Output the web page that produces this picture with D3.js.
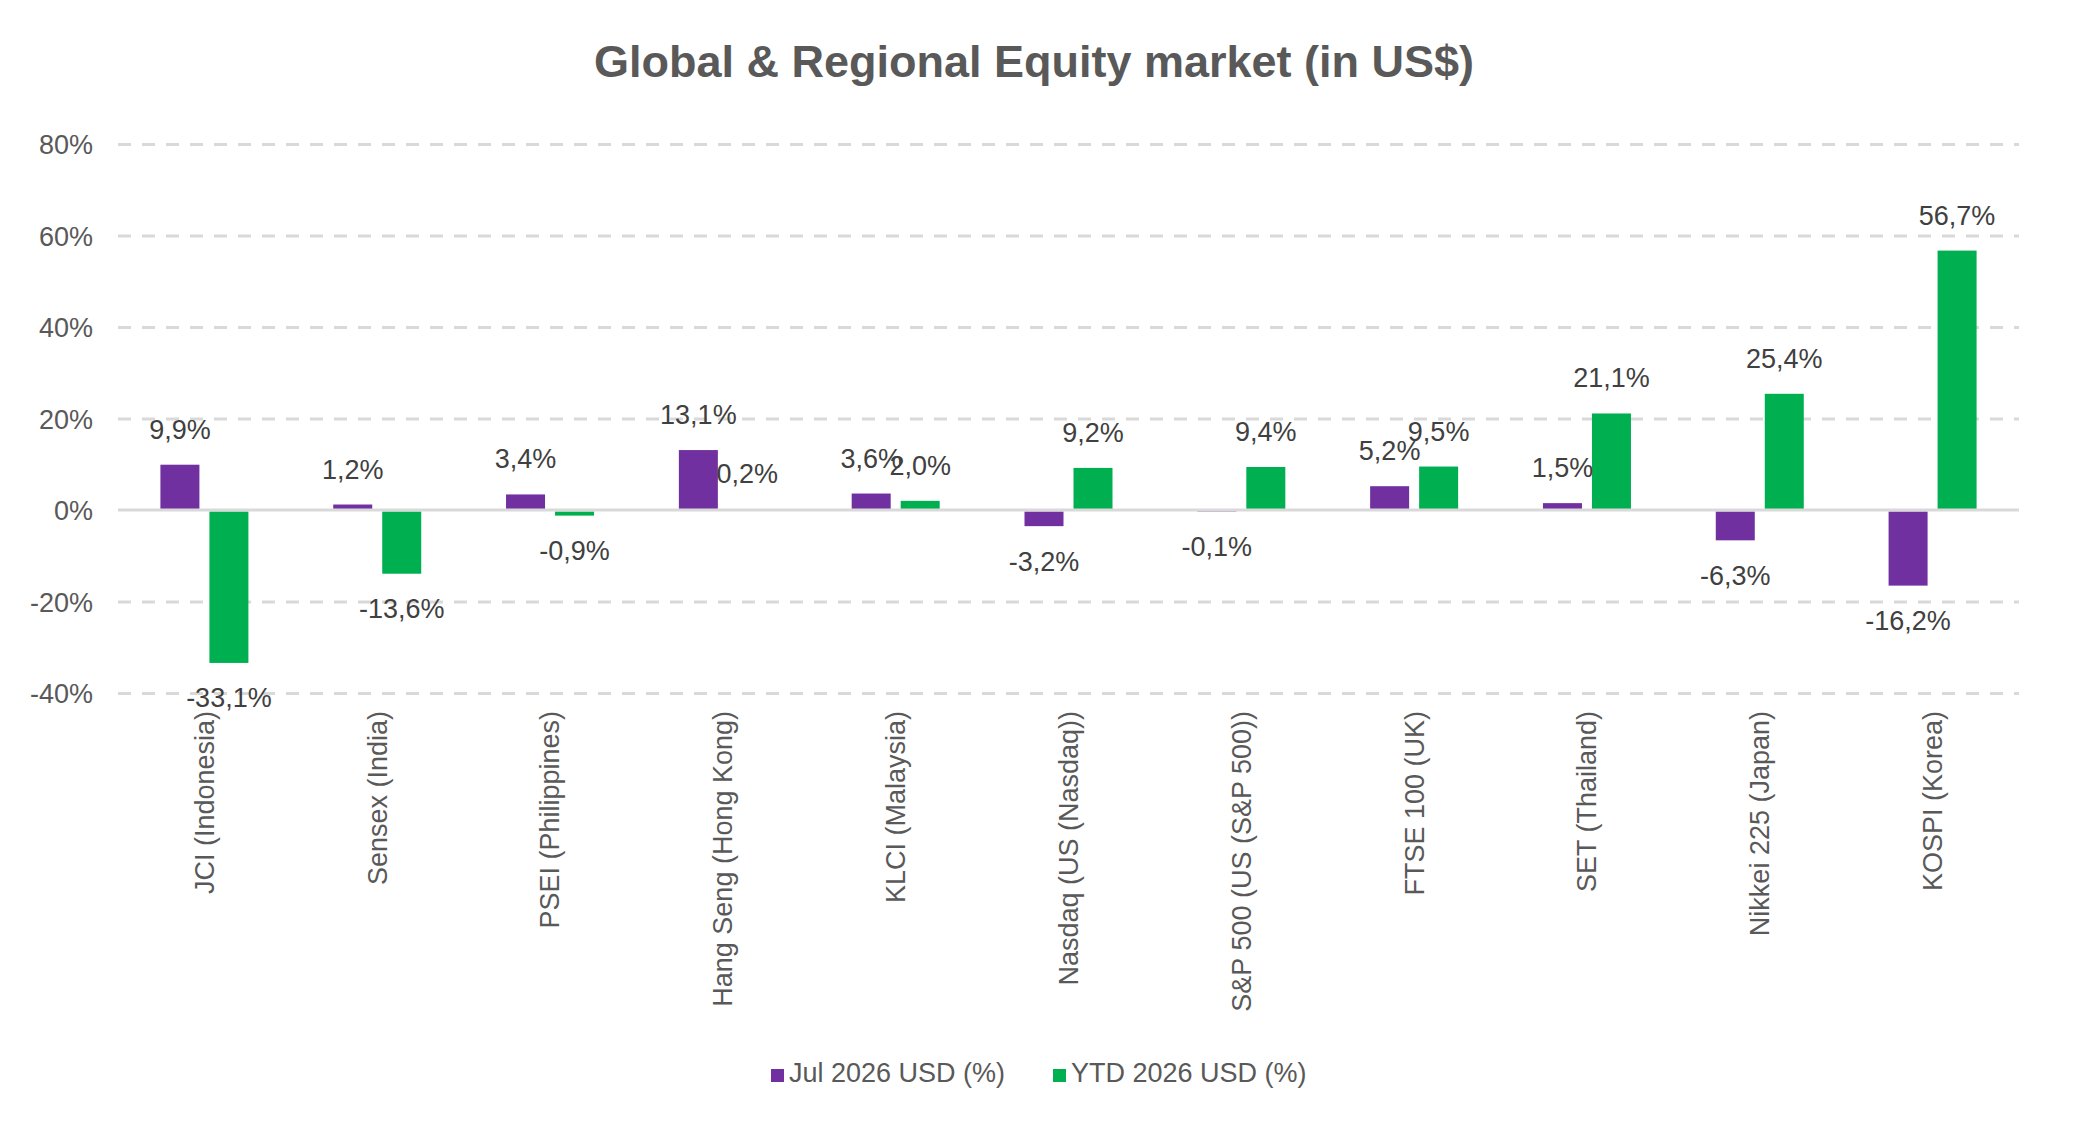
<!DOCTYPE html>
<html>

<head>
    <meta charset="utf-8">
    <style>
        body {
            margin: 0;
            background: #ffffff;
        }

        svg {
            display: block;
            font-family: Arial, 'Liberation Sans', sans-serif;
        }

        .title {
            font-size: 45px;
            font-weight: bold;
            fill: #595959;
        }

        .y .domain {
            display: none;
        }

        .y .tick line {
            stroke: #d9d9d9;
            stroke-width: 3;
            stroke-dasharray: 13, 11;
        }

        .y .tick text {
            font-size: 27px;
            fill: #595959;
        }

        .zero {
            stroke: #d9d9d9;
            stroke-width: 3;
        }

        .cat {
            font-size: 27px;
            fill: #595959;
        }

        .label {
            font-size: 27px;
            fill: #404040;
        }

        .legend text {
            font-size: 27px;
            fill: #595959;
        }
    </style>
</head>

<body>
    <svg width="2076" height="1136"></svg>

<script src="https://cdn.jsdelivr.net/npm/d3@7"></script>

<script>
    // chart values
    let categories = ["JCI (Indonesia)", "Sensex (India)", "PSEI (Philippines)", "Hang Seng (Hong Kong)",
        "KLCI (Malaysia)", "Nasdaq (US (Nasdaq))", "S&P 500 (US (S&P 500))", "FTSE 100 (UK)",
        "SET (Thailand)", "Nikkei 225 (Japan)", "KOSPI (Korea)"];
    let julValues = [9.9, 1.2, 3.4, 13.1, 3.6, -3.2, -0.1, 5.2, 1.5, -6.3, -16.2];
    let ytdValues = [-33.1, -13.6, -0.9, 0.2, 2.0, 9.2, 9.4, 9.5, 21.1, 25.4, 56.7];
    let seriesNames = ["Jul 2026 USD (%)", "YTD 2026 USD (%)"];
    let yTicks = [-40, -20, 0, 20, 40, 60, 80];

    let colors = ["#7030a0", "#00b050"];

    let width = 2076;
    let height = 1136;
    let svg = d3.select("svg");

    let plot = { left: 118, right: 2019, top: 144, bottom: 693 };

    // comma as decimal separator, plain hyphen for minus
    let locale = d3.formatLocale({ decimal: ",", thousands: ".", grouping: [3], currency: ["", ""], minus: "-" });
    let fmtLabel = locale.format(".1f");
    let fmtTick = locale.format("d");

    let xScale = d3.scaleBand()
        .domain(categories)
        .range([plot.left, plot.right])
        .padding(0);

    let yScale = d3.scaleLinear()
        .domain([-40, 80])
        .range([plot.bottom, plot.top]);

    // two bars per category, 39px wide with a 10px gap
    let inner = d3.scaleBand()
        .domain(seriesNames)
        .range([xScale.bandwidth() / 2 - 44, xScale.bandwidth() / 2 + 44])
        .paddingInner(10 / 49);

    svg.append("text")
        .attr("class", "title")
        .attr("x", 1034)
        .attr("y", 77)
        .attr("text-anchor", "middle")
        .text("Global & Regional Equity market (in US$)");

    let yAxisSettings = d3.axisLeft(yScale)
        .tickValues(yTicks)
        .tickSize(-(plot.right - plot.left))
        .tickPadding(25)
        .tickFormat(function (d) { return fmtTick(d) + "%"; });

    let yAxisTicks = svg.append("g")
        .attr("class", "y axis")
        .attr("transform", `translate(${plot.left},0)`)
        .call(yAxisSettings);

    yAxisTicks.selectAll(".tick line")
        .filter(function (d) { return d === 0; })
        .remove();
    yAxisTicks.selectAll(".tick text")
        .attr("dy", "0.36em");

    let rows = categories.map(function (c, i) {
        return { cat: c, values: [julValues[i], ytdValues[i]] };
    });

    let groups = svg.selectAll(".cat-group")
        .data(rows)
        .enter().append("g")
        .attr("class", "cat-group")
        .attr("transform", function (d) { return `translate(${xScale(d.cat)},0)`; });

    let bars = groups.selectAll("rect")
        .data(function (d) {
            return d.values.map(function (v, j) { return { series: seriesNames[j], value: v, idx: j }; });
        })
        .enter();

    bars.append("rect")
        .attr("x", function (d) { return inner(d.series); })
        .attr("width", inner.bandwidth())
        .attr("y", function (d) { return d.value >= 0 ? yScale(d.value) : yScale(0) + 1.5; })
        .attr("height", function (d) { return Math.abs(yScale(d.value) - yScale(0)); })
        .attr("fill", function (d) { return colors[d.idx]; });

    bars.append("text")
        .attr("class", "label")
        .attr("text-anchor", "middle")
        .attr("x", function (d) { return inner(d.series) + inner.bandwidth() / 2; })
        .attr("y", function (d) {
            return d.value >= 0 ? yScale(d.value) - 26 : yScale(d.value) + 46;
        })
        .text(function (d) { return fmtLabel(d.value) + "%"; });

    // zero line
    svg.append("line")
        .attr("class", "zero")
        .attr("x1", plot.left)
        .attr("x2", plot.right)
        .attr("y1", yScale(0))
        .attr("y2", yScale(0));

    // rotated category labels
    svg.selectAll("text.cat")
        .data(categories)
        .enter().append("text")
        .attr("class", "cat")
        .attr("text-anchor", "end")
        .attr("transform", function (d) {
            return `translate(${xScale(d) + xScale.bandwidth() / 2},${plot.bottom + 18}) rotate(-90)`;
        })
        .attr("dy", "0.35em")
        .text(function (d) { return d; });

    // legend
    let legend = svg.append("g").attr("class", "legend");
    let legendX = [771, 1053];
    seriesNames.forEach(function (name, i) {
        legend.append("rect")
            .attr("x", legendX[i])
            .attr("y", 1069)
            .attr("width", 13)
            .attr("height", 13)
            .attr("fill", colors[i]);
        legend.append("text")
            .attr("x", legendX[i] + 18)
            .attr("y", 1082)
            .text(name);
    });
</script>
</body>

</html>
